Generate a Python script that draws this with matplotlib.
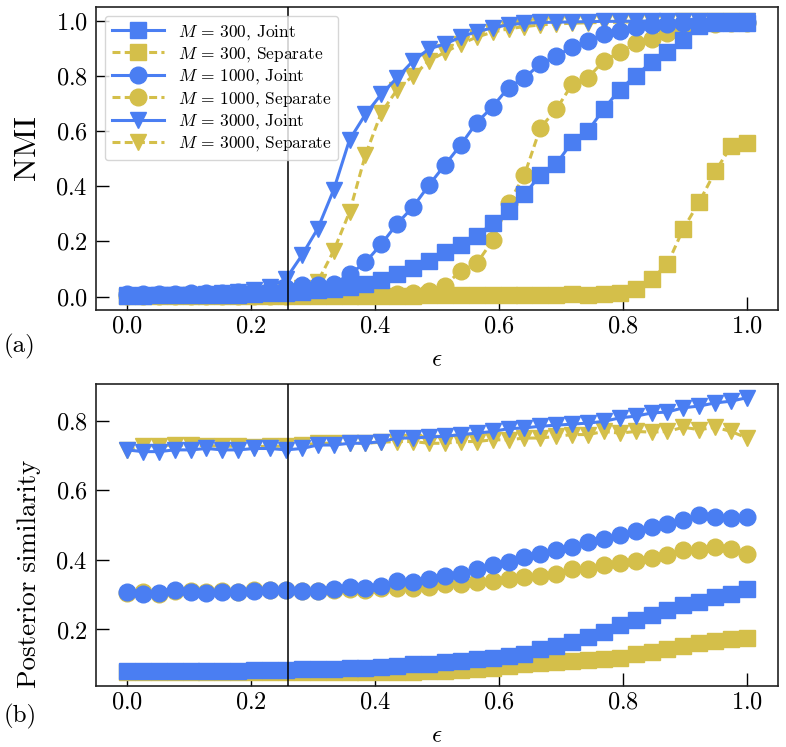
import numpy as np
import matplotlib
matplotlib.use('Agg')
import matplotlib.pyplot as plt

plt.rcParams['font.family'] = ['cmr10', 'DejaVu Serif']
plt.rcParams['mathtext.fontset'] = 'cm'
plt.rcParams['axes.formatter.use_mathtext'] = True

# 40 values of epsilon from 0 to 1
eps = np.linspace(0, 1, 40)
eps_line = 0.26

# NMI (panel a)
nmi_joint_300 = [0.003, 0.003, 0.004, 0.004, 0.005, 0.005, 0.006, 0.007, 0.009, 0.011,
                 0.014, 0.018, 0.022, 0.028, 0.035, 0.045, 0.06, 0.08, 0.105, 0.13,
                 0.16, 0.185, 0.22, 0.265, 0.31, 0.37, 0.44, 0.48, 0.56, 0.60,
                 0.68, 0.75, 0.80, 0.85, 0.885, 0.93, 0.98, 0.99, 0.99, 0.992]
nmi_sep_300 = [0.001, 0.001, 0.001, 0.001, 0.001, 0.001, 0.002, 0.002, 0.002, 0.002,
               0.002, 0.002, 0.003, 0.003, 0.003, 0.003, 0.003, 0.003, 0.003, 0.004,
               0.004, 0.004, 0.004, 0.004, 0.004, 0.005, 0.005, 0.006, 0.008, 0.007,
               0.009, 0.012, 0.027, 0.063, 0.118, 0.246, 0.343, 0.453, 0.544, 0.558]
nmi_joint_1000 = [0.008, 0.008, 0.009, 0.01, 0.011, 0.012, 0.014, 0.016, 0.019, 0.023,
                  0.03, 0.04, 0.04, 0.046, 0.08, 0.124, 0.19, 0.264, 0.325, 0.404,
                  0.477, 0.55, 0.63, 0.688, 0.757, 0.793, 0.842, 0.872, 0.903, 0.927,
                  0.951, 0.963, 0.976, 0.982, 0.988, 0.99, 0.992, 0.994, 0.995, 0.996]
nmi_sep_1000 = [0.001, 0.001, 0.001, 0.001, 0.002, 0.002, 0.002, 0.002, 0.003, 0.003,
                0.003, 0.004, 0.004, 0.005, 0.005, 0.006, 0.007, 0.009, 0.012, 0.021,
                0.039, 0.094, 0.12, 0.203, 0.337, 0.44, 0.611, 0.678, 0.769, 0.793,
                0.854, 0.885, 0.918, 0.933, 0.955, 0.972, 0.982, 0.988, 0.99, 0.992]
nmi_joint_3000 = [0.004, 0.004, 0.005, 0.006, 0.007, 0.009, 0.012, 0.016, 0.022, 0.035,
                  0.064, 0.149, 0.246, 0.386, 0.568, 0.66, 0.733, 0.793, 0.854, 0.897,
                  0.915, 0.94, 0.96, 0.973, 0.985, 0.99, 0.993, 0.994, 0.995, 0.996,
                  0.997, 0.997, 0.998, 0.998, 0.998, 0.999, 0.999, 0.999, 0.999, 0.999]
nmi_sep_3000 = [0.002, 0.002, 0.003, 0.003, 0.004, 0.004, 0.005, 0.006, 0.008, 0.011,
                0.017, 0.03, 0.054, 0.165, 0.306, 0.513, 0.666, 0.75, 0.8, 0.854,
                0.885, 0.915, 0.94, 0.958, 0.97, 0.978, 0.984, 0.988, 0.99, 0.992,
                0.993, 0.994, 0.995, 0.996, 0.996, 0.997, 0.997, 0.998, 0.998, 0.998]

# Posterior similarity (panel b)
ps_joint_300 = [0.082, 0.082, 0.082, 0.082, 0.082, 0.082, 0.082, 0.082, 0.083, 0.083,
                0.083, 0.085, 0.085, 0.086, 0.088, 0.09, 0.091, 0.095, 0.1, 0.102,
                0.105, 0.109, 0.114, 0.117, 0.124, 0.129, 0.143, 0.153, 0.165, 0.179,
                0.193, 0.212, 0.228, 0.242, 0.256, 0.27, 0.278, 0.292, 0.302, 0.316]
ps_sep_300 = [0.079, 0.079, 0.079, 0.079, 0.079, 0.079, 0.079, 0.079, 0.079, 0.079,
              0.079, 0.079, 0.078, 0.078, 0.078, 0.078, 0.077, 0.078, 0.079, 0.08,
              0.08, 0.083, 0.085, 0.09, 0.095, 0.1, 0.103, 0.105, 0.109, 0.112,
              0.114, 0.119, 0.129, 0.134, 0.143, 0.153, 0.162, 0.167, 0.172, 0.174]
ps_joint_1000 = [0.307, 0.303, 0.305, 0.313, 0.307, 0.305, 0.307, 0.307, 0.31, 0.313,
                 0.313, 0.31, 0.31, 0.317, 0.323, 0.32, 0.325, 0.338, 0.336, 0.345,
                 0.353, 0.36, 0.374, 0.384, 0.395, 0.408, 0.418, 0.427, 0.437, 0.451,
                 0.461, 0.47, 0.482, 0.495, 0.504, 0.514, 0.528, 0.524, 0.521, 0.524]
ps_sep_1000 = [0.305, 0.307, 0.303, 0.31, 0.31, 0.307, 0.31, 0.309, 0.313, 0.312,
               0.314, 0.31, 0.311, 0.312, 0.315, 0.312, 0.318, 0.32, 0.318, 0.321,
               0.331, 0.331, 0.336, 0.34, 0.345, 0.35, 0.355, 0.36, 0.374, 0.374,
               0.384, 0.392, 0.398, 0.405, 0.413, 0.427, 0.427, 0.437, 0.432, 0.418]
ps_joint_3000 = [0.716, 0.711, 0.711, 0.716, 0.716, 0.72, 0.716, 0.716, 0.72, 0.72,
                 0.716, 0.72, 0.73, 0.73, 0.735, 0.735, 0.74, 0.75, 0.75, 0.753,
                 0.755, 0.76, 0.764, 0.769, 0.777, 0.779, 0.784, 0.787, 0.79, 0.793,
                 0.798, 0.808, 0.813, 0.822, 0.825, 0.837, 0.842, 0.851, 0.856, 0.866]
ps_sep_3000 = [0.715, 0.728, 0.728, 0.73, 0.729, 0.728, 0.727, 0.726, 0.725, 0.727,
               0.726, 0.73, 0.735, 0.735, 0.737, 0.735, 0.738, 0.74, 0.74, 0.735,
               0.735, 0.74, 0.74, 0.745, 0.745, 0.75, 0.75, 0.755, 0.76, 0.76,
               0.769, 0.764, 0.769, 0.767, 0.769, 0.781, 0.774, 0.781, 0.769, 0.75]

sizes = ['300', '1000', '3000']
markers = ['s', 'o', 'v']
blue = '#4a7ef2'
yellow = '#d4bf4a'


def draw_panel(ax, joint, sep, ylabel, label_size, label_y, legend=False):
    for i in range(3):
        ax.plot(eps, joint[i], color=blue, ls='-', lw=2.2, marker=markers[i], ms=12,
                label=r'$M\,=\,$' + sizes[i] + ', Joint', zorder=3)
        ax.plot(eps, sep[i], color=yellow, ls='--', lw=2.2, dashes=(2.6, 1.4),
                marker=markers[i], ms=12,
                label=r'$M\,=\,$' + sizes[i] + ', Separate', zorder=2)
    ax.axvline(eps_line, color='black', lw=1.1, zorder=5)
    ax.set_xlabel(r'$\epsilon$', fontsize=18, labelpad=8)
    ax.set_ylabel(ylabel, fontsize=label_size)
    ax.yaxis.set_label_coords(-0.08, label_y)
    ax.set_xticks([0.0, 0.2, 0.4, 0.6, 0.8, 1.0])
    ax.tick_params(direction='in', length=9.5, width=1.0, labelsize=17.5,
                   top=False, right=False)
    ax.tick_params(axis='x', pad=4)
    ax.tick_params(axis='y', pad=6)
    for s in ax.spines.values():
        s.set_linewidth(1.2)
        s.set_color('#222222')
    if legend:
        h, l = ax.get_legend_handles_labels()
        ax.legend(h, l, loc='upper left', fontsize=12.5, handlelength=3.0,
                  labelspacing=0.2, borderaxespad=0.5, edgecolor='#cccccc')


fig = plt.figure(figsize=(7.86, 7.47), dpi=100)
ax1 = fig.add_axes([0.1221, 0.585, 0.8677, 0.4056])
ax2 = fig.add_axes([0.1221, 0.0817, 0.8677, 0.4043])

draw_panel(ax1, [nmi_joint_300, nmi_joint_1000, nmi_joint_3000],
           [nmi_sep_300, nmi_sep_1000, nmi_sep_3000], 'NMI', 23, 0.535, legend=True)
draw_panel(ax2, [ps_joint_300, ps_joint_1000, ps_joint_3000],
           [ps_sep_300, ps_sep_1000, ps_sep_3000], 'Posterior similarity', 19.5, 0.37)
ax1.set_yticks([0.0, 0.2, 0.4, 0.6, 0.8, 1.0])
ax2.set_yticks([0.2, 0.4, 0.6, 0.8])

fig.text(0.004, 1 - 346 / 747, '(a)', fontsize=18, va='center')
fig.text(0.004, 1 - 716 / 747, '(b)', fontsize=18, va='center')

fig.savefig('out.png', dpi=100)
